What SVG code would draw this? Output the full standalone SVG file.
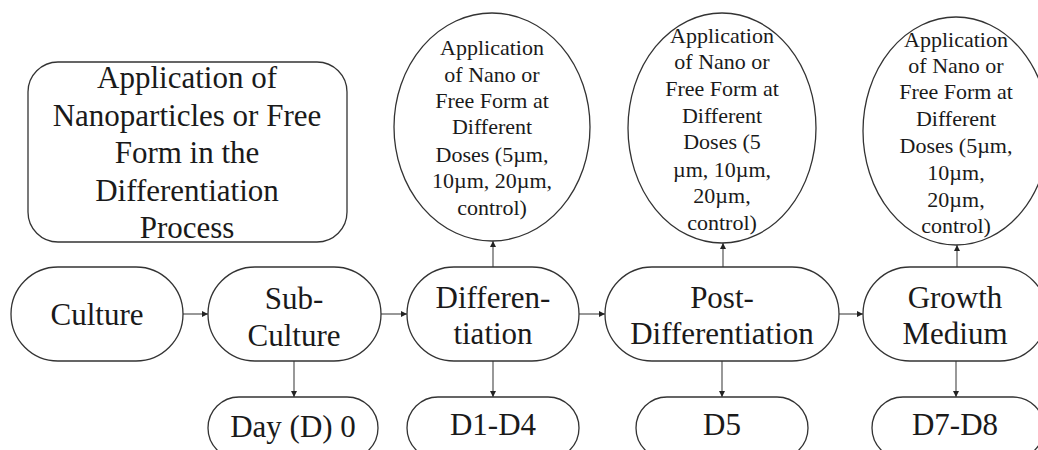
<svg xmlns="http://www.w3.org/2000/svg" width="1038" height="450" viewBox="0 0 1038 450">
<defs>
<marker id="ah" viewBox="0 0 10 10" refX="10" refY="5" markerWidth="6" markerHeight="6" markerUnits="userSpaceOnUse" orient="auto">
<path d="M0,0 L10,5 L0,10 z" fill="#222"/>
</marker>
</defs>
<rect width="1038" height="450" fill="#fff"/>
<g id="connectors" stroke="#444" stroke-width="1.1" fill="none" marker-end="url(#ah)">
<line x1="183" y1="314" x2="208" y2="314"/>
<line x1="381" y1="314" x2="407" y2="314"/>
<line x1="579" y1="314" x2="605" y2="314"/>
<line x1="839" y1="314" x2="863" y2="314"/>
<line x1="294" y1="361" x2="294" y2="397"/>
<line x1="493" y1="361" x2="493" y2="397"/>
<line x1="722" y1="361" x2="722" y2="397"/>
<line x1="956" y1="361" x2="956" y2="397"/>
<line x1="493" y1="267" x2="493" y2="241"/>
<line x1="723" y1="267" x2="723" y2="243"/>
<line x1="957" y1="267" x2="957" y2="245"/>
</g>
<g fill="#fff" stroke="#333" stroke-width="1.3">
<rect id="title-box-shape" x="28" y="62" width="319" height="180" rx="30"/>
<ellipse id="dose1-shape" cx="492" cy="127" rx="98" ry="114"/>
<ellipse id="dose2-shape" cx="722" cy="128" rx="94" ry="115"/>
<ellipse id="dose3-shape" cx="956" cy="131" rx="93" ry="114"/>
<rect id="culture-shape" x="11" y="267" width="172" height="94" rx="47"/>
<rect id="subculture-shape" x="208" y="267" width="173" height="94" rx="47"/>
<rect id="differentiation-shape" x="407" y="267" width="172" height="94" rx="47"/>
<rect id="postdiff-shape" x="605" y="267" width="234" height="94" rx="47"/>
<rect id="growth-shape" x="863" y="267" width="184" height="94" rx="47"/>
<rect id="day0-shape" x="208" y="397" width="170" height="62" rx="31"/>
<rect id="d1d4-shape" x="407" y="397" width="172" height="62" rx="31"/>
<rect id="d5-shape" x="636" y="397" width="172" height="62" rx="31"/>
<rect id="d7d8-shape" x="872" y="397" width="172" height="62" rx="31"/>
</g>
<g fill="#1a1a1a" text-anchor="middle" font-family="Liberation Serif">
<g id="title-box" font-size="31">
<text><tspan x="187" y="88">Application of</tspan><tspan x="187" y="126">Nanoparticles or Free</tspan><tspan x="187" y="163">Form in the</tspan><tspan x="187" y="201">Differentiation</tspan><tspan x="187" y="238">Process</tspan></text>
</g>
<g id="dose1" font-size="22">
<text><tspan x="492" y="55">Application</tspan><tspan x="492" y="82">of Nano or</tspan><tspan x="492" y="108">Free Form at</tspan><tspan x="492" y="134">Different</tspan><tspan x="492" y="162">Doses (5µm,</tspan><tspan x="492" y="188">10µm, 20µm,</tspan><tspan x="492" y="215">control)</tspan></text>
</g>
<g id="dose2" font-size="22">
<text><tspan x="722" y="43">Application</tspan><tspan x="722" y="69">of Nano or</tspan><tspan x="722" y="96">Free Form at</tspan><tspan x="722" y="123">Different</tspan><tspan x="722" y="149">Doses (5</tspan><tspan x="722" y="177">µm, 10µm,</tspan><tspan x="722" y="203">20µm,</tspan><tspan x="722" y="230">control)</tspan></text>
</g>
<g id="dose3" font-size="22">
<text><tspan x="956" y="47">Application</tspan><tspan x="956" y="73">of Nano or</tspan><tspan x="956" y="99">Free Form at</tspan><tspan x="956" y="126">Different</tspan><tspan x="956" y="153">Doses (5µm,</tspan><tspan x="956" y="180">10µm,</tspan><tspan x="956" y="207">20µm,</tspan><tspan x="956" y="233">control)</tspan></text>
</g>
<g id="culture" font-size="31"><text x="97" y="325">Culture</text></g>
<g id="subculture" font-size="31"><text><tspan x="294" y="309">Sub-</tspan><tspan x="294" y="346">Culture</tspan></text></g>
<g id="differentiation" font-size="31"><text><tspan x="493" y="308">Differen-</tspan><tspan x="493" y="344">tiation</tspan></text></g>
<g id="postdiff" font-size="31"><text><tspan x="722" y="308">Post-</tspan><tspan x="722" y="344">Differentiation</tspan></text></g>
<g id="growth" font-size="31"><text><tspan x="955" y="308">Growth</tspan><tspan x="955" y="344">Medium</tspan></text></g>
<g id="day0" font-size="31"><text x="293" y="437">Day (D) 0</text></g>
<g id="d1d4" font-size="31"><text x="493" y="435">D1-D4</text></g>
<g id="d5" font-size="31"><text x="722" y="435">D5</text></g>
<g id="d7d8" font-size="31"><text x="955" y="435">D7-D8</text></g>
</g>
</svg>
